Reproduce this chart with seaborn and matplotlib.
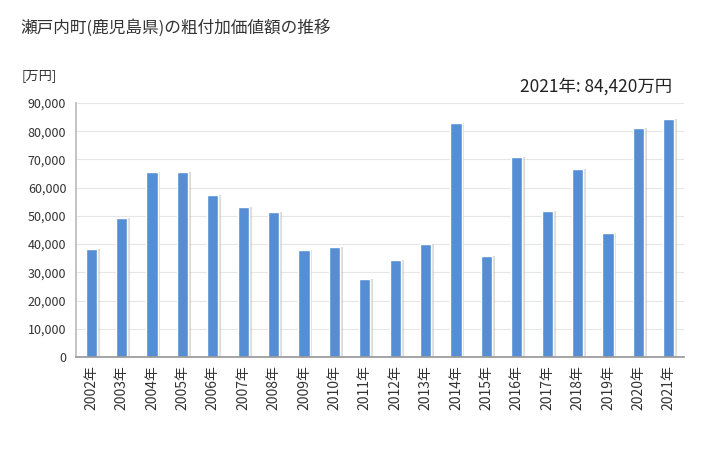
import matplotlib
matplotlib.use('Agg')
import matplotlib.pyplot as plt
import matplotlib.patheffects as pe
import numpy as np
import pandas as pd
import seaborn as sns

years = [f'{y}年' for y in range(2002, 2022)]
values = [38300, 49300, 65700, 65700, 57400, 53200, 51500, 38000, 38800, 27800,
          34500, 40100, 83000, 35800, 70900, 51800, 66700, 44000, 81200, 84420]
yticks = list(range(0, 90001, 10000))

sns.set_theme(style='white')
plt.rcParams['font.family'] = ['Noto Sans CJK JP', 'DejaVu Sans']

df = pd.DataFrame({'year': years, 'value': values})

fig = plt.figure(figsize=(7.28, 4.5), dpi=100)
ax = fig.add_axes([76 / 728, 93 / 450, 608 / 728, 254 / 450])

sns.barplot(data=df, x='year', y='value', color='#558ed5', saturation=1,
            width=0.37, ax=ax, zorder=3)
for p in ax.patches:
    p.set_path_effects([pe.SimplePatchShadow(offset=(2, 0), shadow_rgbFace='#bbbbbb', alpha=0.5),
                        pe.Normal()])

ax.set_ylim(0, 90000)
ax.set_xlim(-0.5, len(years) - 0.5)
ax.set_yticks(yticks)
ax.set_yticklabels([f'{v:,}' for v in yticks], fontsize=9, color='#333333')
ax.yaxis.grid(True, color='#e6e6e6', linewidth=0.8, zorder=0)
ax.set_xlabel('')
ax.set_ylabel('')
ax.set_xticks(range(len(years)))
ax.set_xticklabels(years, rotation=90, fontsize=10, color='#333333')
ax.set_xticks(np.arange(-0.5, len(years), 1), minor=True)
ax.tick_params(axis='x', which='major', length=0, pad=6)
ax.tick_params(axis='x', which='minor', length=5, color='#999999', width=0.8)
ax.tick_params(axis='y', length=3, color='#bbbbbb', pad=4)
for s in ['top', 'right']:
    ax.spines[s].set_visible(False)
ax.spines['left'].set_color('#bbbbbb')
ax.spines['bottom'].set_color('#999999')
ax.spines['bottom'].set_zorder(5)

fig.text(20 / 728, 1 - 28 / 450, '瀬戸内町(鹿児島県)の粗付加価値額の推移', fontsize=12,
         va='center', ha='left', color='#333333')
fig.text(22 / 728, 1 - 76 / 450, '[万円]', fontsize=9.5, va='center', ha='left', color='#333333')
fig.text(672 / 728, 1 - 87 / 450, '2021年: 84,420万円', fontsize=12.5, va='center', ha='right',
         color='#222222')

fig.savefig('out.png', dpi=100)
